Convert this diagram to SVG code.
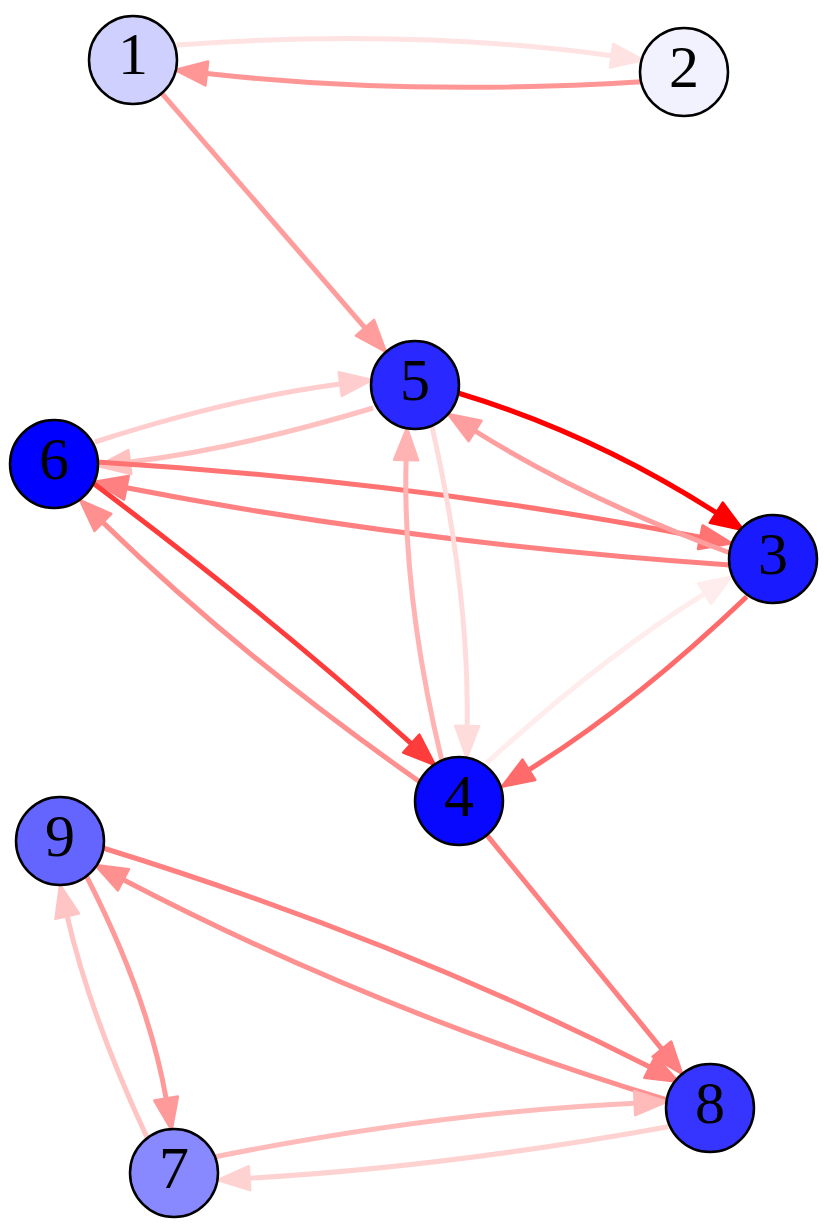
<svg xmlns="http://www.w3.org/2000/svg" width="830" height="1229" viewBox="0 0 830 1229">
<style>
.e{fill:none;stroke-width:5;}
marker path{stroke-width:2.5;stroke-linejoin:round;}
.n circle{stroke:#000;stroke-width:2.5;}
.n text{font-family:"Liberation Serif","Times New Roman",serif;font-size:60px;text-anchor:middle;fill:#000;}
</style>
<defs>
<marker id="m12" viewBox="0 -12 32 24" refX="0" refY="0" markerWidth="32" markerHeight="24" markerUnits="userSpaceOnUse" orient="auto" overflow="visible"><path d="M0,-12L32,0L0,12Z" fill="#ffe2e2" stroke="#ffe2e2"/></marker>
<marker id="m21" viewBox="0 -12 32 24" refX="0" refY="0" markerWidth="32" markerHeight="24" markerUnits="userSpaceOnUse" orient="auto" overflow="visible"><path d="M0,-12L32,0L0,12Z" fill="#ff9696" stroke="#ff9696"/></marker>
<marker id="m15" viewBox="0 -12 32 24" refX="0" refY="0" markerWidth="32" markerHeight="24" markerUnits="userSpaceOnUse" orient="auto" overflow="visible"><path d="M0,-12L32,0L0,12Z" fill="#ff9c9c" stroke="#ff9c9c"/></marker>
<marker id="m65" viewBox="0 -12 32 24" refX="0" refY="0" markerWidth="32" markerHeight="24" markerUnits="userSpaceOnUse" orient="auto" overflow="visible"><path d="M0,-12L32,0L0,12Z" fill="#ffcdcd" stroke="#ffcdcd"/></marker>
<marker id="m56" viewBox="0 -12 32 24" refX="0" refY="0" markerWidth="32" markerHeight="24" markerUnits="userSpaceOnUse" orient="auto" overflow="visible"><path d="M0,-12L32,0L0,12Z" fill="#ffc0c0" stroke="#ffc0c0"/></marker>
<marker id="m63" viewBox="0 -12 32 24" refX="0" refY="0" markerWidth="32" markerHeight="24" markerUnits="userSpaceOnUse" orient="auto" overflow="visible"><path d="M0,-12L32,0L0,12Z" fill="#ff7373" stroke="#ff7373"/></marker>
<marker id="m36" viewBox="0 -12 32 24" refX="0" refY="0" markerWidth="32" markerHeight="24" markerUnits="userSpaceOnUse" orient="auto" overflow="visible"><path d="M0,-12L32,0L0,12Z" fill="#ff8080" stroke="#ff8080"/></marker>
<marker id="m53" viewBox="0 -12 32 24" refX="0" refY="0" markerWidth="32" markerHeight="24" markerUnits="userSpaceOnUse" orient="auto" overflow="visible"><path d="M0,-12L32,0L0,12Z" fill="#ff0000" stroke="#ff0000"/></marker>
<marker id="m35" viewBox="0 -12 32 24" refX="0" refY="0" markerWidth="32" markerHeight="24" markerUnits="userSpaceOnUse" orient="auto" overflow="visible"><path d="M0,-12L32,0L0,12Z" fill="#ff9e9e" stroke="#ff9e9e"/></marker>
<marker id="m64" viewBox="0 -12 32 24" refX="0" refY="0" markerWidth="32" markerHeight="24" markerUnits="userSpaceOnUse" orient="auto" overflow="visible"><path d="M0,-12L32,0L0,12Z" fill="#ff3c3c" stroke="#ff3c3c"/></marker>
<marker id="m46" viewBox="0 -12 32 24" refX="0" refY="0" markerWidth="32" markerHeight="24" markerUnits="userSpaceOnUse" orient="auto" overflow="visible"><path d="M0,-12L32,0L0,12Z" fill="#ff9090" stroke="#ff9090"/></marker>
<marker id="m45" viewBox="0 -12 32 24" refX="0" refY="0" markerWidth="32" markerHeight="24" markerUnits="userSpaceOnUse" orient="auto" overflow="visible"><path d="M0,-12L32,0L0,12Z" fill="#ffb3b3" stroke="#ffb3b3"/></marker>
<marker id="m54" viewBox="0 -12 32 24" refX="0" refY="0" markerWidth="32" markerHeight="24" markerUnits="userSpaceOnUse" orient="auto" overflow="visible"><path d="M0,-12L32,0L0,12Z" fill="#ffdcdc" stroke="#ffdcdc"/></marker>
<marker id="m43" viewBox="0 -12 32 24" refX="0" refY="0" markerWidth="32" markerHeight="24" markerUnits="userSpaceOnUse" orient="auto" overflow="visible"><path d="M0,-12L32,0L0,12Z" fill="#ffecec" stroke="#ffecec"/></marker>
<marker id="m34" viewBox="0 -12 32 24" refX="0" refY="0" markerWidth="32" markerHeight="24" markerUnits="userSpaceOnUse" orient="auto" overflow="visible"><path d="M0,-12L32,0L0,12Z" fill="#ff6b6b" stroke="#ff6b6b"/></marker>
<marker id="m48" viewBox="0 -12 32 24" refX="0" refY="0" markerWidth="32" markerHeight="24" markerUnits="userSpaceOnUse" orient="auto" overflow="visible"><path d="M0,-12L32,0L0,12Z" fill="#ff8080" stroke="#ff8080"/></marker>
<marker id="m98" viewBox="0 -12 32 24" refX="0" refY="0" markerWidth="32" markerHeight="24" markerUnits="userSpaceOnUse" orient="auto" overflow="visible"><path d="M0,-12L32,0L0,12Z" fill="#ff8080" stroke="#ff8080"/></marker>
<marker id="m89" viewBox="0 -12 32 24" refX="0" refY="0" markerWidth="32" markerHeight="24" markerUnits="userSpaceOnUse" orient="auto" overflow="visible"><path d="M0,-12L32,0L0,12Z" fill="#ff9090" stroke="#ff9090"/></marker>
<marker id="m97" viewBox="0 -12 32 24" refX="0" refY="0" markerWidth="32" markerHeight="24" markerUnits="userSpaceOnUse" orient="auto" overflow="visible"><path d="M0,-12L32,0L0,12Z" fill="#ff9a9a" stroke="#ff9a9a"/></marker>
<marker id="m79" viewBox="0 -12 32 24" refX="0" refY="0" markerWidth="32" markerHeight="24" markerUnits="userSpaceOnUse" orient="auto" overflow="visible"><path d="M0,-12L32,0L0,12Z" fill="#ffc4c4" stroke="#ffc4c4"/></marker>
<marker id="m78" viewBox="0 -12 32 24" refX="0" refY="0" markerWidth="32" markerHeight="24" markerUnits="userSpaceOnUse" orient="auto" overflow="visible"><path d="M0,-12L32,0L0,12Z" fill="#ffbaba" stroke="#ffbaba"/></marker>
<marker id="m87" viewBox="0 -12 32 24" refX="0" refY="0" markerWidth="32" markerHeight="24" markerUnits="userSpaceOnUse" orient="auto" overflow="visible"><path d="M0,-12L32,0L0,12Z" fill="#ffd2d2" stroke="#ffd2d2"/></marker>
</defs>
<rect width="830" height="1229" fill="#fff"/>
<g id="edges">
<path class="e" stroke="#ffe2e2" marker-end="url(#m12)" d="M176.7,45 Q410,28 611.6,55.65"/>
<path class="e" stroke="#ff9696" marker-end="url(#m21)" d="M641.7,81.7 Q410,96 206.8,73.5"/>
<path class="e" stroke="#ff9c9c" marker-end="url(#m15)" d="M161.9,93.3 L365,327.8"/>
<path class="e" stroke="#ffcdcd" marker-end="url(#m65)" d="M95,442 Q230.7,398.3 340.3,384.1"/>
<path class="e" stroke="#ffc0c0" marker-end="url(#m56)" d="M373,408 Q238,448.7 129.8,462.1"/>
<path class="e" stroke="#ff7373" marker-end="url(#m63)" d="M97,462 Q418,482 700.3,537.2"/>
<path class="e" stroke="#ff8080" marker-end="url(#m36)" d="M730,565 Q410,543 126.4,487.8"/>
<path class="e" stroke="#ff9e9e" marker-end="url(#m35)" d="M730,553 Q582,498 475.1,431"/>
<path class="e" stroke="#ff0000" marker-end="url(#m53)" d="M458,393 Q592.5,433.5 716.3,512.7"/>
<path class="e" stroke="#ff9090" marker-end="url(#m46)" d="M420,782 Q238.5,654.9 102.9,522.4"/>
<path class="e" stroke="#ff3c3c" marker-end="url(#m64)" d="M93.3,483.3 Q270.4,616.3 411.3,743.6"/>
<path class="e" stroke="#ffb3b3" marker-end="url(#m45)" d="M441.7,760 Q402.4,596.3 406.1,460"/>
<path class="e" stroke="#ffdcdc" marker-end="url(#m54)" d="M431.7,425 Q469.1,589.4 467.2,726"/>
<path class="e" stroke="#ffecec" marker-end="url(#m43)" d="M486.7,763 Q600.7,658.7 704.6,593.7"/>
<path class="e" stroke="#ff6b6b" marker-end="url(#m34)" d="M746.7,596.7 Q634,704.3 528.9,769.8"/>
<path class="e" stroke="#ff8080" marker-end="url(#m48)" d="M486.9,835.1 L661.9,1049.1"/>
<path class="e" stroke="#ff8080" marker-end="url(#m98)" d="M103,848 Q401.9,940.6 649.8,1067.1"/>
<path class="e" stroke="#ff9090" marker-end="url(#m89)" d="M667,1100 Q372.3,1009.9 123.4,879.8"/>
<path class="e" stroke="#ff9a9a" marker-end="url(#m97)" d="M86.7,876.7 Q148.2,997 166.1,1098.5"/>
<path class="e" stroke="#ffc4c4" marker-end="url(#m79)" d="M146.7,1136.7 Q90.1,1015.4 67.2,916.2"/>
<path class="e" stroke="#ffbaba" marker-end="url(#m78)" d="M215.4,1156.7 Q439.9,1112.1 634.7,1103.2"/>
<path class="e" stroke="#ffd2d2" marker-end="url(#m87)" d="M668.3,1126.7 Q446,1166.9 249.5,1178.2"/>
</g>
<g id="node1" class="n"><circle cx="133" cy="60" r="44" fill="#d0d0ff"/><text x="133" y="74">1</text></g>
<g id="node2" class="n"><circle cx="684" cy="72" r="44" fill="#f2f2ff"/><text x="684" y="87">2</text></g>
<g id="node3" class="n"><circle cx="773" cy="559" r="44" fill="#1a1aff"/><text x="773" y="574">3</text></g>
<g id="node4" class="n"><circle cx="459" cy="801" r="44" fill="#0808ff"/><text x="459" y="816">4</text></g>
<g id="node5" class="n"><circle cx="415" cy="385" r="44" fill="#2828ff"/><text x="415" y="400">5</text></g>
<g id="node6" class="n"><circle cx="54" cy="464" r="44" fill="#0000ff"/><text x="54" y="479">6</text></g>
<g id="node7" class="n"><circle cx="174" cy="1173" r="44" fill="#8888ff"/><text x="174" y="1188">7</text></g>
<g id="node8" class="n"><circle cx="710" cy="1108" r="44" fill="#3535ff"/><text x="710" y="1123">8</text></g>
<g id="node9" class="n"><circle cx="60" cy="841" r="44" fill="#6464ff"/><text x="60" y="856">9</text></g>
</svg>
